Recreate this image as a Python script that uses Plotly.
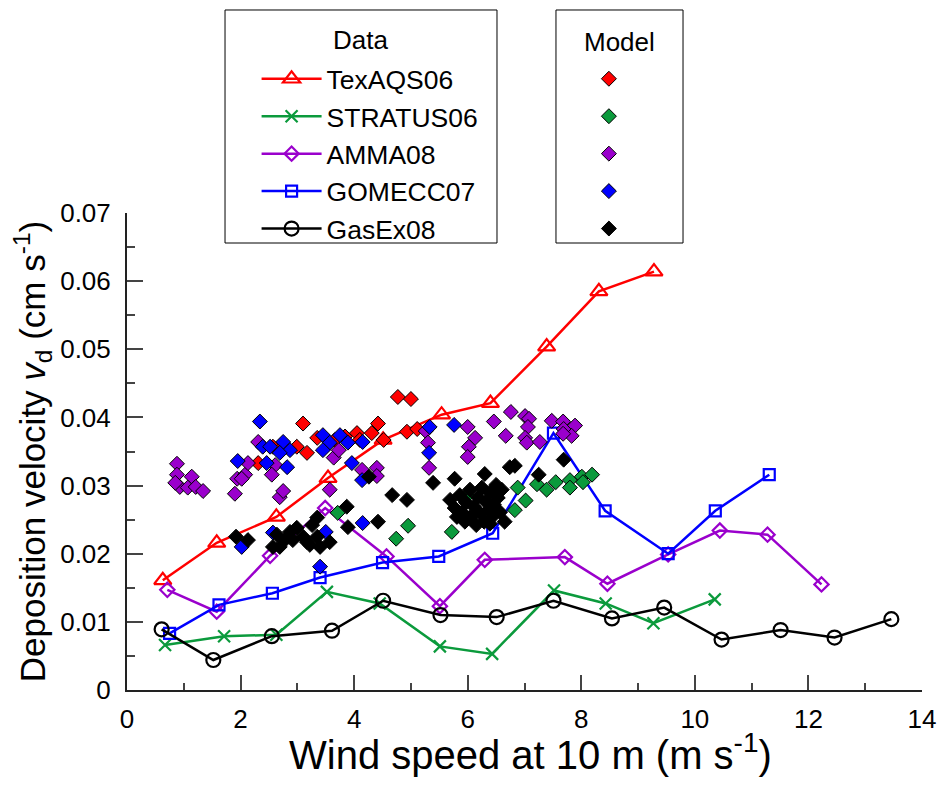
import plotly.graph_objects as go

# ---- observed data: wind speed (m/s) vs deposition velocity (cm/s) ----
tex_u = [0.63, 1.58, 2.63, 3.54, 4.51, 5.54, 6.40, 7.39, 8.31, 9.28]
tex_vd = [0.0161, 0.0216, 0.0254, 0.0311, 0.0367, 0.0404, 0.0421, 0.0504, 0.0585, 0.0614]

str_u = [0.67, 1.71, 2.63, 3.52, 4.45, 5.51, 6.43, 7.52, 8.43, 9.27, 10.35]
str_vd = [0.0066, 0.0079, 0.0081, 0.0144, 0.0127, 0.0064, 0.0053, 0.0146, 0.0127, 0.0098, 0.0133]

amma_u = [0.71, 1.58, 2.52, 3.49, 4.57, 5.51, 6.30, 7.71, 8.46, 9.53, 10.44, 11.28, 12.23]
amma_vd = [0.0147, 0.0115, 0.0197, 0.0267, 0.0196, 0.0123, 0.0191, 0.0195, 0.0156, 0.0199,
           0.0234, 0.0228, 0.0155]

gom_u = [0.75, 1.62, 2.56, 3.40, 4.50, 5.49, 6.44, 7.51, 8.42, 9.53, 10.36, 11.31]
gom_vd = [0.0083, 0.0125, 0.0142, 0.0165, 0.0187, 0.0196, 0.0230, 0.0377, 0.0263, 0.0200,
          0.0263, 0.0316]

gas_u = [0.61, 1.52, 2.55, 3.61, 4.51, 5.52, 6.51, 7.51, 8.54, 9.46, 10.47, 11.51, 12.46, 13.46]
gas_vd = [0.0089, 0.0044, 0.0079, 0.0087, 0.0131, 0.0110, 0.0107, 0.0131, 0.0105, 0.0121,
          0.0074, 0.0088, 0.0077, 0.0104]

# ---- model values ----
m_tex_u = [2.31, 2.57, 2.75, 2.99, 3.10, 3.17, 3.35, 3.66, 3.84, 4.05, 4.10, 4.31, 4.42, 4.52,
           4.77, 5.00, 4.93, 5.11]
m_tex_vd = [0.0333, 0.0357, 0.0357, 0.0357, 0.0391, 0.0348, 0.0370, 0.0367, 0.0372, 0.0377,
            0.0367, 0.0377, 0.0391, 0.0367, 0.0430, 0.0427, 0.0379, 0.0383]

m_str_u = [3.71, 4.95, 4.74, 5.72, 5.99, 6.88, 7.02, 6.83, 7.22, 7.39, 7.55, 7.80, 7.80, 8.01,
           8.03, 8.19]
m_str_vd = [0.0260, 0.0241, 0.0222, 0.0232, 0.0285, 0.0297, 0.0278, 0.0264, 0.0302, 0.0294,
            0.0305, 0.0308, 0.0297, 0.0313, 0.0305, 0.0316]

m_amma_u = [0.88, 0.88, 1.14, 0.93, 1.07, 1.21, 1.34, 0.85, 1.90, 1.94, 2.08, 2.02, 2.13, 2.31,
            2.61, 2.55, 2.69, 2.75, 3.64, 3.73, 3.57, 4.14, 4.40, 4.40, 5.26, 5.30, 5.32, 6.00,
            6.13, 6.02, 6.00, 6.46, 6.76, 6.67, 7.01, 7.08, 7.06, 7.01, 7.04, 7.27, 7.48, 7.68,
            7.69, 7.89, 7.83, 7.68]
m_amma_vd = [0.0332, 0.0316, 0.0313, 0.0298, 0.0297, 0.0298, 0.0292, 0.0304, 0.0288, 0.0310,
             0.0316, 0.0310, 0.0333, 0.0364, 0.0330, 0.0316, 0.0283, 0.0292, 0.0341, 0.0352,
             0.0294, 0.0323, 0.0326, 0.0314, 0.0380, 0.0363, 0.0326, 0.0386, 0.0370, 0.0357,
             0.0342, 0.0394, 0.0408, 0.0373, 0.0402, 0.0398, 0.0386, 0.0370, 0.0363, 0.0364,
             0.0395, 0.0394, 0.0383, 0.0388, 0.0373, 0.0376]

m_gom_u = [2.34, 1.95, 2.39, 2.52, 2.75, 2.87, 2.69, 2.46, 2.82, 3.45, 3.57, 3.45, 3.75, 3.89,
           4.15, 3.96, 4.14, 4.15, 3.50, 2.57, 2.02, 3.40, 5.33, 5.76, 5.32]
m_gom_vd = [0.0394, 0.0336, 0.0357, 0.0357, 0.0364, 0.0352, 0.0348, 0.0333, 0.0327, 0.0374,
            0.0363, 0.0352, 0.0374, 0.0363, 0.0364, 0.0333, 0.0308, 0.0245, 0.0232, 0.0231,
            0.0210, 0.0181, 0.0386, 0.0389, 0.0348]

m_gas_u = [1.92, 2.13, 2.57, 2.64, 2.69, 2.78, 2.87, 2.92, 2.99, 3.10, 3.17, 3.22, 3.26, 3.35,
           3.35, 3.40, 3.57, 3.87, 3.89, 4.42, 4.26, 4.67, 4.93, 5.39, 5.77, 6.30, 6.74, 6.83,
           6.65, 7.69, 7.25,
           5.69, 5.77, 5.86, 5.90, 5.97, 6.04, 6.04, 6.11, 6.18, 6.21, 6.25, 6.29, 6.32, 6.36,
           6.39, 6.43, 6.46, 6.50, 6.53, 6.57, 6.60, 5.81, 5.95, 6.15, 6.39]
m_gas_vd = [0.0225, 0.0220, 0.0210, 0.0228, 0.0210, 0.0220, 0.0232, 0.0220, 0.0238, 0.0225,
            0.0217, 0.0213, 0.0242, 0.0253, 0.0225, 0.0210, 0.0217, 0.0269, 0.0239, 0.0247,
            0.0313, 0.0286, 0.0279, 0.0304, 0.0310, 0.0317, 0.0327, 0.0329, 0.0247, 0.0338,
            0.0316,
            0.0279, 0.0267, 0.0286, 0.0261, 0.0275, 0.0294, 0.0253, 0.0269, 0.0283, 0.0260,
            0.0297, 0.0247, 0.0276, 0.0264, 0.0289, 0.0254, 0.0272, 0.0301, 0.0282, 0.0261,
            0.0294, 0.0254, 0.0247, 0.0242, 0.0244]

names = ["TexAQS06", "STRATUS06", "AMMA08", "GOMECC07", "GasEx08"]
colors = ["#FF0000", "#0B9A3C", "#9A00CC", "#0000FF", "#000000"]
symbols = ["triangle-up-open", "x-thin-open", "diamond-open", "square-open", "circle-open"]
sizes = [15, 12, 11, 11, 14]
obs = [(tex_u, tex_vd), (str_u, str_vd), (amma_u, amma_vd), (gom_u, gom_vd), (gas_u, gas_vd)]
mod = [(m_tex_u, m_tex_vd), (m_str_u, m_str_vd), (m_amma_u, m_amma_vd),
       (m_gom_u, m_gom_vd), (m_gas_u, m_gas_vd)]

FONT = "Liberation Sans, Arial, sans-serif"

fig = go.Figure()
for i, (u, vd) in enumerate(obs):
    fig.add_trace(go.Scatter(
        x=u, y=vd, mode="lines+markers", name=names[i],
        line=dict(color=colors[i], width=2.5),
        marker=dict(symbol=symbols[i], size=sizes[i], color=colors[i],
                    line=dict(color=colors[i], width=2.2)),
        legend="legend", legendgroup="d%d" % i))

for i, (u, vd) in enumerate(mod):
    fig.add_trace(go.Scatter(
        x=u, y=vd, mode="markers", name=" ",
        marker=dict(symbol="diamond", size=11.5, color=colors[i],
                    line=dict(color="black", width=1)),
        legend="legend2", legendgroup="m%d" % i))

# legend frames and titles
fig.add_shape(type="rect", xref="paper", yref="paper", x0=0.1233, x1=0.4654,
              y0=0.9371, y1=1.4256, line=dict(color="black", width=1))
fig.add_shape(type="rect", xref="paper", yref="paper", x0=0.5396, x1=0.6994,
              y0=0.9371, y1=1.4256, line=dict(color="black", width=1))
fig.add_annotation(text="Data", xref="paper", yref="paper", x=0.2943, y=1.3627,
                   xanchor="center", yanchor="middle",
                   showarrow=False, font=dict(size=26, color="black"))
fig.add_annotation(text="Model", xref="paper", yref="paper", x=0.6201, y=1.3585,
                   xanchor="center", yanchor="middle",
                   showarrow=False, font=dict(size=26, color="black"))
# x-axis title placed as annotation for exact vertical position
fig.add_annotation(text="Wind speed at 10 m (m s<sup>-1</sup>)", xref="paper", yref="paper",
                   x=0.507, y=-0.13, xanchor="center", yanchor="middle",
                   showarrow=False, font=dict(size=40, color="black"))

fig.update_xaxes(
    range=[0, 14], tickvals=[0, 2, 4, 6, 8, 10, 12, 14], showgrid=False, zeroline=False,
    showline=True, linecolor="#222", linewidth=2, automargin=False,
    ticks="inside", ticklen=15, tickwidth=2, tickcolor="#444",
    minor=dict(dtick=1, ticks="inside", ticklen=7, tickwidth=2, tickcolor="#444"),
    tickfont=dict(size=26, color="black"), ticklabelstandoff=5)
fig.update_yaxes(
    range=[0, 0.07], tickvals=[0, 0.01, 0.02, 0.03, 0.04, 0.05, 0.06, 0.07],
    ticktext=["0", "0.01", "0.02", "0.03", "0.04", "0.05", "0.06", "0.07"],
    showgrid=False, zeroline=False, automargin=False,
    showline=True, linecolor="#222", linewidth=2,
    ticks="inside", ticklen=16, tickwidth=2, tickcolor="#444",
    minor=dict(dtick=0.005, ticks="inside", ticklen=8, tickwidth=2, tickcolor="#444"),
    tickfont=dict(size=26, color="black"), ticklabelstandoff=9,
    title=dict(text="Deposition velocity <i>v</i><sub>d</sub> (cm s<sup>-1</sup>)",
               font=dict(size=35, color="black"), standoff=4))

fig.update_layout(
    width=941, height=787,
    margin=dict(l=127, r=19, t=213, b=97, autoexpand=False),
    plot_bgcolor="white", paper_bgcolor="white",
    font=dict(family=FONT, color="black"),
    showlegend=True,
    legend=dict(x=0.163, y=1.3312, xanchor="left", yanchor="top", bgcolor="rgba(0,0,0,0)",
                borderwidth=0, font=dict(size=26.5), tracegroupgap=0, itemwidth=60,
                traceorder="grouped"),
    legend2=dict(x=0.581, y=1.3312, xanchor="left", yanchor="top", bgcolor="rgba(0,0,0,0)",
                 borderwidth=0, font=dict(size=26.5), tracegroupgap=0, itemwidth=30,
                 traceorder="grouped"),
)

# the page's default body margin would shift the figure by 8px
fig.write_html("out.html", config={"displayModeBar": False},
               post_script="document.body.style.margin='0';")
